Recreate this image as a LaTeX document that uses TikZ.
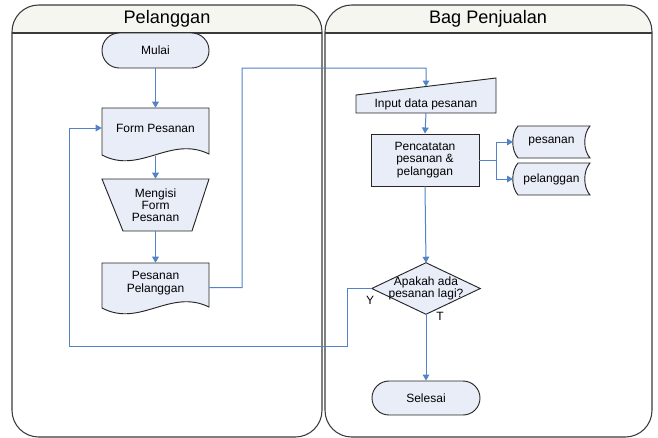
\documentclass[tikz,border=0pt]{standalone}
\usepackage{fontspec}
\setmainfont{Liberation Sans}
\usetikzlibrary{arrows.meta}
\definecolor{nodefill}{HTML}{E8EDF8}
\definecolor{conn}{HTML}{5283C6}
\definecolor{titlefill}{HTML}{F6F6F1}
\definecolor{lanecol}{HTML}{3A3A3A}
\begin{document}
\begin{tikzpicture}[x=0.75pt,y=-0.75pt,
  every node/.style={font=\fontsize{9pt}{9.2pt}\selectfont, align=center, inner sep=0pt},
  lane/.style={draw=lanecol, line width=0.8pt, rounded corners=20pt},
  shapeline/.style={draw=black!85, line width=0.7pt, fill=nodefill},
  txt/.style={minimum width=80.25pt},
  term/.style={shapeline, rounded corners=13pt, minimum width=80.25pt, minimum height=26.25pt},
  procbox/.style={shapeline, minimum width=81pt, minimum height=39pt},
  flow/.style={draw=conn, line width=0.75pt, -{Triangle[length=4.5pt,width=5pt]}},
  plain/.style={draw=conn, line width=0.75pt},
  lanetitle/.style={font=\fontsize{13.6pt}{15pt}\selectfont}
]
\useasboundingbox (0,0) rectangle (658,437);

% lanes
\begin{scope}
  \clip (0,0) rectangle (658,33);
  \fill[titlefill, rounded corners=20pt] (12,437) rectangle (322,5);
  \fill[titlefill, rounded corners=20pt] (325,437) rectangle (652,5);
\end{scope}
\draw[lane] (12,437) rectangle (322,5);
\draw[lane] (325,437) rectangle (652,5);
\draw[lanecol, line width=0.8pt] (12,33) -- (322,33);
\draw[lanecol, line width=0.8pt] (325,33) -- (652,33);
\node[lanetitle] (t1) at (167,19) {Pelanggan};
\node[lanetitle] (t2) at (488,19) {Bag Penjualan};

% shapes drawn directly
\path[shapeline] (102,108) -- (209,108) -- (209,154)
  .. controls (170,135) and (140,175) .. (102,155) -- cycle;
\path[shapeline] (102,179) -- (209,179) -- (192,231) -- (123,231) -- cycle;
\path[shapeline] (102,263) -- (209,263) -- (209,307)
  .. controls (170,288) and (140,328) .. (102,308) -- cycle;
\path[shapeline] (356,95) -- (496,78) -- (496,113) -- (356,113) -- cycle;
\path[shapeline] (518,126) -- (590,126) .. controls (583,134) and (583,150) .. (590,158)
  -- (518,158) .. controls (511,150) and (511,134) .. (518,126) -- cycle;
\path[shapeline] (518,163) -- (590,163) .. controls (583,171) and (583,187) .. (590,195)
  -- (518,195) .. controls (511,187) and (511,171) .. (518,163) -- cycle;

% nodes
\node[term] (mulai) at (155.5,50.5) {Mulai};
\node[txt, minimum height=30pt] (form) at (155.5,128) {Form Pesanan};
\coordinate (formb) at (155.5,156);
\node[txt, minimum height=39pt] (mengisi) at (155.5,205) {Mengisi\\Form\\Pesanan};
\node[txt, minimum height=30pt] (pp) at (155.5,283) {Pesanan\\Pelanggan};
\node[minimum width=105pt] (input) at (426,104.5) {Input data pesanan};
\coordinate (inputtop) at (426,86.5);
\node[procbox] (pen) at (425,160) {Pencatatan\\pesanan \&\\pelanggan};
\node[minimum width=54pt, minimum height=24pt] (pes) at (551.5,142) {pesanan};
\node[minimum width=54pt, minimum height=24pt] (pel) at (551.5,179) {pelanggan};
\node[minimum width=81pt, minimum height=38.25pt] (dec) at (426,288.5) {};
\path[shapeline] (dec.north) -- (dec.east) -- (dec.south) -- (dec.west) -- cycle;
\node (dectext) at (dec) {Apakah ada\\pesanan lagi?};
\node[term, minimum width=81pt, minimum height=25.5pt, rounded corners=12.75pt] (sel) at (426,398) {Selesai};
\node (ylab) at (370,300) {Y};
\node (tlab) at (440,316) {T};

\coordinate (bra) at (496,160);
\coordinate (pesw) at (513,142);
\coordinate (pelw) at (513,179);

% connectors
\draw[flow] (mulai.south) -- (form.north);
\draw[flow] (formb) -- (mengisi.north);
\draw[flow] (mengisi.south) -- (pp.north);
\draw[flow] ([yshift=-3.5pt]pp.east) -- (242,287.7) -- (242,68) -- (426,68) -- (inputtop);
\draw[flow] (input.south |- 0,113) -- (pen.north);
\draw[plain] (pen.east) -- (bra);
\draw[flow] (bra) |- (pesw);
\draw[flow] (bra) |- (pelw);
\draw[flow] (pen.south) -- (dec.north);
\draw[flow] (dec.south) -- (sel.north);
\draw[flow] (dec.west) -- (347,288.5) -- (347,346) -- (69,346) -- (69,128) -- (form.west);
\end{tikzpicture}
\end{document}
